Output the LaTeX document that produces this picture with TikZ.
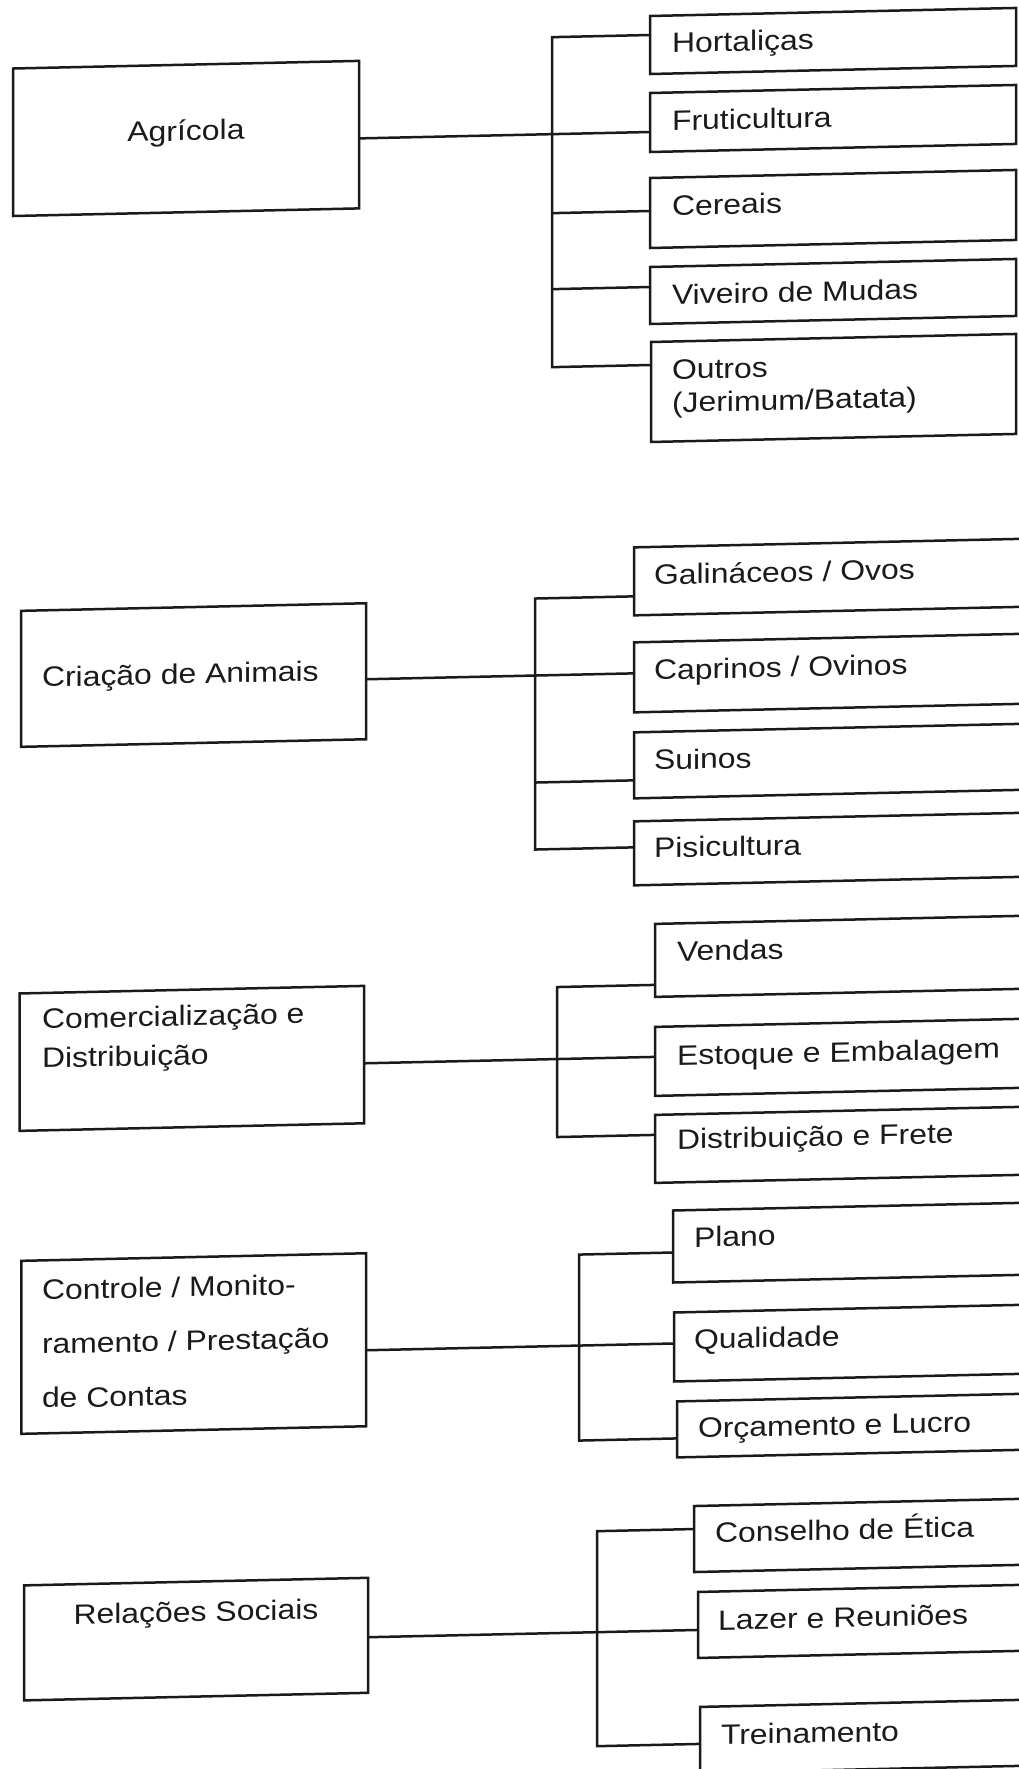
\documentclass[tikz,border=0pt]{standalone}
\usepackage{fontspec}
\setmainfont[FakeStretch=1.14]{Liberation Sans}
\definecolor{ink}{HTML}{1A1A1A}
\begin{document}
\begin{tikzpicture}[x=1pt,y=-1pt,
  box/.style={draw=ink,line width=2.5pt,inner sep=0pt,outer sep=0pt,rectangle},
  lbl/.style={inner sep=0pt,outer sep=0pt,anchor=base west,text=ink,align=left,font=\fontsize{28}{33}\selectfont},
  link/.style={draw=ink,line width=2.5pt}]
\fill[white] (0,0) rectangle (1019,1769);
\useasboundingbox (0,0) rectangle (1019,1769);
\clip (0,0) rectangle (1019,1769);
\begin{scope}[transform canvas={shift={(0pt,-14.3pt)},yslant=0.022}]
% ---------- Agricola ----------
\node[box,minimum width=346pt,minimum height=147.5pt] (agr) at (186,128.25) {};
\node[lbl,anchor=base] (agr-t) at (186,130.5) {Agrícola};
\node[box,minimum width=366pt,minimum height=58pt] (hor) at (833,45) {};
\node[lbl] (hor-t) at (672,53) {Hortaliças};
\node[box,minimum width=366pt,minimum height=59pt] (fru) at (833,122.5) {};
\node[lbl] (fru-t) at (672,131) {Fruticultura};
\node[box,minimum width=366pt,minimum height=70pt] (cer) at (833,213) {};
\node[lbl] (cer-t) at (672,216) {Cereais};
\node[box,minimum width=366pt,minimum height=57pt] (viv) at (833,295.5) {};
\node[lbl] (viv-t) at (672,305) {Viveiro de Mudas};
\node[box,minimum width=365pt,minimum height=100pt] (out) at (833.5,392) {};
\node[lbl] (out-t) at (672,413) {Outros\\(Jerimum/Batata)};
\coordinate (j1) at (552,132);
\coordinate (j1a) at (552,35);
\coordinate (j1c) at (552,211);
\coordinate (j1d) at (552,287);
\coordinate (j1e) at (552,365);
\draw[link] (agr.east |- j1) -- (fru.west |- j1);
\draw[link] (hor.west |- j1a) -- (j1a) -- (j1e) -- (out.west |- j1e);
\draw[link] (j1c) -- (cer.west |- j1c);
\draw[link] (j1d) -- (viv.west |- j1d);
% ---------- Criacao ----------
\node[box,minimum width=345pt,minimum height=136pt] (cri) at (193.5,665) {};
\node[lbl] (cri-t) at (42,673.6) {Criação de Animais};
\node[box,minimum width=396pt,minimum height=68pt] (gal) at (832,581) {};
\node[lbl] (gal-t) at (654,585) {Galináceos / Ovos};
\node[box,minimum width=396pt,minimum height=70pt] (cap) at (832,677) {};
\node[lbl] (cap-t) at (654,680) {Caprinos / Ovinos};
\node[box,minimum width=396pt,minimum height=66pt] (sui) at (832,765) {};
\node[lbl] (sui-t) at (654,770) {Suinos};
\node[box,minimum width=396pt,minimum height=64pt] (pis) at (832,853) {};
\node[lbl] (pis-t) at (654,858) {Pisicultura};
\coordinate (j2) at (535,673);
\coordinate (j2a) at (535,596);
\coordinate (j2c) at (535,780);
\coordinate (j2d) at (535,847);
\draw[link] (cri.east |- j2) -- (cap.west |- j2);
\draw[link] (gal.west |- j2a) -- (j2a) -- (j2d) -- (pis.west |- j2d);
\draw[link] (j2c) -- (sui.west |- j2c);
% ---------- Comercializacao ----------
\node[box,minimum width=344.5pt,minimum height=137.4pt] (com) at (191.75,1048.3) {};
\node[lbl,font=\fontsize{28}{39}\selectfont] (com-t) at (42,1054.6) {Comercialização e\\Distribuição};
\node[box,minimum width=375pt,minimum height=73pt] (ven) at (842.5,960.5) {};
\node[lbl] (ven-t) at (677,962) {Vendas};
\node[box,minimum width=375pt,minimum height=69pt] (est) at (842.5,1061.5) {};
\node[lbl] (est-t) at (677,1066) {Estoque e Embalagem};
\node[box,minimum width=375pt,minimum height=68pt] (dis) at (842.5,1149) {};
\node[lbl] (dis-t) at (677,1150) {Distribuição e Frete};
\coordinate (j3) at (557,1057);
\coordinate (j3a) at (557,985);
\coordinate (j3c) at (557,1135);
\draw[link] (com.east |- j3) -- (est.west |- j3);
\draw[link] (ven.west |- j3a) -- (j3a) -- (j3c) -- (dis.west |- j3c);
% ---------- Controle ----------
\node[box,minimum width=344.6pt,minimum height=173pt] (con) at (193.7,1333.5) {};
\node[lbl,font=\fontsize{28}{54}\selectfont] (con-t) at (42,1394.6) {Controle / Monito-\\ramento / Prestação\\de Contas};
\node[box,minimum width=357pt,minimum height=72pt] (pla) at (851.5,1247) {};
\node[lbl] (pla-t) at (694,1248) {Plano};
\node[box,minimum width=356pt,minimum height=69pt] (qua) at (852,1347.5) {};
\node[lbl] (qua-t) at (694,1350) {Qualidade};
\node[box,minimum width=353pt,minimum height=56pt] (orc) at (853.5,1430) {};
\node[lbl] (orc-t) at (698,1439) {Orçamento e Lucro};
\coordinate (j4) at (579,1344);
\coordinate (j4a) at (579,1253);
\coordinate (j4c) at (579,1439);
\draw[link] (con.east |- j4) -- (qua.west |- j4);
\draw[link] (pla.west |- j4a) -- (j4a) -- (j4c) -- (orc.west |- j4c);
% ---------- Relacoes ----------
\node[box,minimum width=344pt,minimum height=115pt] (rel) at (196,1629.1) {};
\node[lbl,anchor=base] (rel-t) at (196,1611.7) {Relações Sociais};
\node[box,minimum width=336pt,minimum height=66pt] (cons) at (862,1540) {};
\node[lbl] (cons-t) at (715,1544) {Conselho de Ética};
\node[box,minimum width=332pt,minimum height=66pt] (laz) at (864,1626) {};
\node[lbl] (laz-t) at (718,1631.5) {Lazer e Reuniões};
\node[box,minimum width=330pt,minimum height=66pt] (tre) at (865,1741) {};
\node[lbl] (tre-t) at (721,1746.5) {Treinamento};
\coordinate (j5) at (597,1631);
\coordinate (j5a) at (597,1530);
\coordinate (j5c) at (597,1745);
\draw[link] (rel.east |- j5) -- (laz.west |- j5);
\draw[link] (cons.west |- j5a) -- (j5a) -- (j5c) -- (tre.west |- j5c);
\end{scope}
\end{tikzpicture}
\end{document}
